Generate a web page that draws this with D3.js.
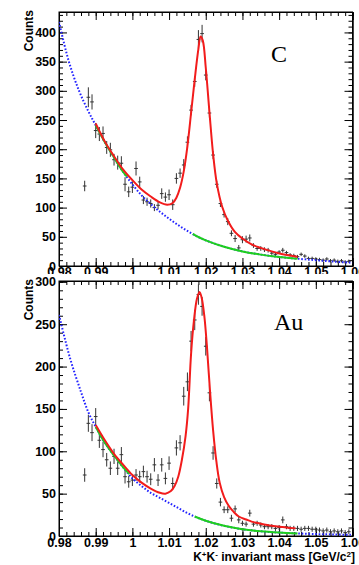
<!DOCTYPE html>
<html><head><meta charset="utf-8">
<script src="https://cdn.jsdelivr.net/npm/d3@7"></script>
<style>html,body{margin:0;padding:0;background:#fff;} svg{display:block;}</style>
</head><body>
<svg id="chart" width="359" height="565"></svg>
<script>
// ---------- DATA ----------
const massBins = [0.987,0.988,0.989,0.990,0.991,0.992,0.993,0.994,0.995,0.996,0.997,0.998,0.999,
 1.000,1.001,1.002,1.003,1.004,1.005,1.006,1.007,1.008,1.009,1.010,1.011,1.012,1.013,1.014,1.015,1.016,1.017,1.018,1.019,
 1.020,1.021,1.022,1.023,1.024,1.025,1.026,1.027,1.028,1.029,1.030,1.031,1.032,1.033,1.034,1.035,1.036,1.037,1.038,1.039,
 1.040,1.041,1.042,1.043,1.044,1.045,1.046,1.047,1.048,1.049,1.050,1.051,1.052,1.053,1.054,1.055,1.056,1.057,1.058,1.059];

const countsC = [137,289,281,232,226,227,203,199,182,177,176,140,127,
 135,167,144,113,110,107,100,104,124,118,122,105,150,159,173,212,267,316,388,398,
 327,262,190,140,107,88,76,56,47,31,45,46,48,35,30,30,28,27,22,20,
 24,27,23,19,18,16,20,17,13,13,12,11,10,12,9,10,8,9,7,8];
const errC = [9,17,13,13,12,12,11,12,10,12,12,12,9,
 10,12,9,7,7,7,6,7,9,8,9,9,9,8,10,10,9,9,16,15,
 9,8,7,6,6,5,6,5,6,5,6,6,6,4,4,4,4,4,3,3,
 3,4,3,3,3,3,3,3,3,3,3,3,3,3,3,3,3,3,3,3];

const countsAu = [72,133,122,141,113,102,90,80,94,80,96,70,64,
 66,72,70,76,70,67,84,66,84,68,86,62,104,110,165,182,230,255,285,271,
 224,169,98,62,40,31,31,21,32,19,15,14,27,14,15,13,11,11,11,9,
 10,19,11,9,9,9,8,9,9,8,8,7,6,7,5,6,5,6,4,5];
const errAu = [8,10,10,10,9,9,8,8,9,8,9,8,7,
 7,7,7,7,7,7,8,7,8,7,8,7,9,9,11,11,12,12,12,11,
 11,10,8,6,5,4,4,4,4,4,3,3,4,3,3,3,3,3,3,3,
 3,4,3,3,3,3,3,3,3,3,3,3,3,3,3,3,3,3,3,3];

// fit curves: [mass, counts]
const redC = [[0.990,244],[0.9925,213],[0.995,188],[0.9975,165],[1.000,147],[1.0025,131],[1.005,119],[1.0075,109],[1.0095,105],
 [1.011,108],[1.012,117],[1.013,134],[1.014,162],[1.015,205],[1.016,262],[1.017,320],[1.018,372],[1.0186,393],[1.0192,386],
 [1.020,340],[1.021,264],[1.022,192],[1.023,142],[1.0245,101],[1.026,78],[1.028,58],[1.030,47],[1.0325,37],[1.035,31],
 [1.038,25],[1.041,20],[1.045,16]];
const blueC = [[0.980,418],[0.9826,352],[0.9854,301],[0.988,265],[0.990,241],[0.9925,212],[0.995,186],[0.9975,161],[1.000,140],
 [1.0025,121],[1.005,106],[1.0075,93],[1.010,81],[1.0125,70],[1.015,60],[1.0175,51],[1.020,44],[1.025,33],[1.030,25],
 [1.035,19.5],[1.040,15.5],[1.045,12.5],[1.050,10],[1.055,7.5],[1.060,5.5]];
const greenC = [[0.990,241],[0.9925,212],[0.995,186],[0.9975,161],[0.9985,153],[1.008,null],
 [1.0165,55],[1.0175,51],[1.020,44],[1.025,33],[1.030,25],[1.035,19.5],[1.040,15.5],[1.045,12.5]];

const redAu = [[0.990,131],[0.9925,113],[0.995,97],[0.9975,84],[1.000,72],[1.0025,63],[1.005,56],[1.0075,51],[1.009,50],
 [1.0105,53],[1.0115,59],[1.0125,70],[1.0135,90],[1.0145,118],[1.0152,150],[1.016,215],[1.0168,255],[1.0176,280],[1.0183,288],
 [1.0189,281],[1.0196,260],[1.0203,225],[1.0211,175],[1.022,125],[1.0229,88],[1.0238,63],[1.025,46],[1.0262,36],[1.0275,29],
 [1.029,23],[1.031,19.5],[1.0325,17],[1.035,14.5],[1.038,12],[1.041,10.5],[1.0445,9]];
const blueAu = [[0.980,261],[0.983,210],[0.986,170],[0.988,146],[0.990,129],[0.9925,110],[0.995,95],[0.9975,81],[1.000,68],
 [1.0025,59],[1.005,51],[1.0075,45],[1.010,39],[1.0125,33],[1.015,27],[1.0175,22],[1.020,18],[1.025,12],[1.030,8],
 [1.035,5.5],[1.040,4],[1.045,3],[1.050,2.3],[1.055,1.8],[1.060,1.4]];
const greenAu = [[0.990,129],[0.9925,110],[0.995,95],[0.9975,81],[0.9992,73],[1.008,null],
 [1.017,23],[1.020,18],[1.025,12],[1.030,8],[1.035,5.5],[1.040,4],[1.045,3]];

const xTickValues = [0.98,0.99,1.00,1.01,1.02,1.03,1.04,1.05,1.06];
const xTickLabels = ["0.98","0.99","1","1.01","1.02","1.03","1.04","1.05","1.06"];
const yTicksC = [0,50,100,150,200,250,300,350,400];
const yTicksAu = [0,50,100,150,200,250,300];
const yTitle = "Counts";
const panelLabels = ["C","Au"];

// ---------- DRAW ----------
const svg = d3.select("#chart");
const L = 59, R = 352.5;
const x = d3.scaleLinear().domain([0.98,1.06]).range([L,R]);
const FONT = "'Liberation Sans', Arial, Helvetica, sans-serif";

function styleAxis(g){
  g.select(".domain").attr("stroke","#000").attr("stroke-width",1);
  g.selectAll(".tick line").attr("stroke","#000").attr("stroke-width",1);
  g.selectAll("text").attr("font-family",FONT).attr("font-weight","bold").attr("font-size",12.5).attr("fill","#000");
}

function drawPanel(opts, idx){
  const g = svg.append("g");
  const y = d3.scaleLinear().domain([0,opts.yMax]).range([opts.bottom,opts.top]);
  const clipId = "clip"+idx;
  svg.append("clipPath").attr("id",clipId).append("rect")
    .attr("x",L).attr("y",opts.top).attr("width",R-L).attr("height",opts.bottom-opts.top);

  // minor ticks
  const xMinor = x.ticks(40);
  const yMinor = d3.range(0, opts.yMax, 10);
  g.append("g").attr("transform",`translate(0,${opts.bottom})`)
    .call(d3.axisBottom(x).tickValues(xMinor).tickSize(-4).tickFormat("")).call(styleAxis);
  g.append("g").attr("transform",`translate(0,${opts.top})`)
    .call(d3.axisTop(x).tickValues(xMinor).tickSize(-4).tickFormat("")).call(styleAxis);
  g.append("g").attr("transform",`translate(${L},0)`)
    .call(d3.axisLeft(y).tickValues(yMinor).tickSize(-4).tickFormat("")).call(styleAxis);
  g.append("g").attr("transform",`translate(${R},0)`)
    .call(d3.axisRight(y).tickValues(yMinor).tickSize(-4).tickFormat("")).call(styleAxis);
  // major ticks
  g.append("g").attr("transform",`translate(0,${opts.bottom})`)
    .call(d3.axisBottom(x).tickValues(xTickValues).tickSize(-8).tickPadding(opts.xPad)
      .tickFormat((d,i)=>xTickLabels[i])).call(styleAxis);
  g.append("g").attr("transform",`translate(0,${opts.top})`)
    .call(d3.axisTop(x).tickValues(xTickValues).tickSize(-8).tickFormat("")).call(styleAxis);
  g.append("g").attr("transform",`translate(${L},0)`)
    .call(d3.axisLeft(y).tickValues(opts.yTicks).tickSize(-8).tickPadding(3).tickFormat(d=>String(d))).call(styleAxis);
  g.append("g").attr("transform",`translate(${R},0)`)
    .call(d3.axisRight(y).tickValues(opts.yTicks).tickSize(-8).tickFormat("")).call(styleAxis);

  // frame
  g.append("rect").attr("x",L).attr("y",opts.top).attr("width",R-L).attr("height",opts.bottom-opts.top)
    .attr("fill","none").attr("stroke","#000").attr("stroke-width",1);

  const plot = g.append("g").attr("clip-path",`url(#${clipId})`);
  // data points
  const pts = plot.append("g").attr("stroke","#333").attr("stroke-width",1);
  massBins.forEach((m,i)=>{
    const c = opts.counts[i], e = opts.err[i];
    pts.append("line").attr("x1",x(m)).attr("x2",x(m)).attr("y1",y(c-e)).attr("y2",y(c+e));
    pts.append("line").attr("x1",x(m-0.0005)).attr("x2",x(m+0.0005)).attr("y1",y(c)).attr("y2",y(c));
  });
  const line = d3.line().defined(d=>d[1]!==null).x(d=>x(d[0])).y(d=>y(d[1])).curve(d3.curveCatmullRom.alpha(0.5));
  plot.append("path").attr("d",line(opts.blue)).attr("fill","none").attr("stroke","#2424ff")
    .attr("stroke-width",2).attr("stroke-dasharray","1.6,1.8");
  plot.append("path").attr("d",line(opts.green)).attr("fill","none").attr("stroke","#1ecf1e").attr("stroke-width",2);
  plot.append("path").attr("d",line(opts.red)).attr("fill","none").attr("stroke","#f21c1c").attr("stroke-width",2);

  // y title
  g.append("text").attr("transform",`translate(33,${opts.top-2}) rotate(-90)`).attr("text-anchor","end")
    .attr("font-family",FONT).attr("font-weight","bold").attr("font-size",12).text(yTitle);
  // panel label
  g.append("text").attr("x",opts.labelX).attr("y",opts.labelY)
    .attr("font-family","'Liberation Serif','Times New Roman',serif").attr("font-size",24).text(opts.label);
}

drawPanel({counts:countsC, err:errC, red:redC, blue:blueC, green:greenC, yMax:435, top:12, bottom:266,
  yTicks:yTicksC, label:panelLabels[0], labelX:271, labelY:62, xPad:1.5}, 0);

// bottom pad background hides lower part of the upper pad's tick labels
svg.append("rect").attr("x",0).attr("y",274).attr("width",359).attr("height",291).attr("fill","#fff");

drawPanel({counts:countsAu, err:errAu, red:redAu, blue:blueAu, green:greenAu, yMax:301, top:281, bottom:536,
  yTicks:yTicksAu, label:panelLabels[1], labelX:274, labelY:329.5, xPad:2.5}, 1);

// x axis title
const t = svg.append("text").attr("x",355).attr("y",560.5).attr("text-anchor","end")
  .attr("font-family",FONT).attr("font-weight","bold").attr("font-size",12);
t.append("tspan").text("K");
t.append("tspan").attr("dy",-4).attr("font-size",8).text("+");
t.append("tspan").attr("dy",4).text("K");
t.append("tspan").attr("dy",-4).attr("font-size",8).text("-");
t.append("tspan").attr("dy",4).text(" invariant mass [GeV/c");
t.append("tspan").attr("dy",-4).attr("font-size",8).text("2");
t.append("tspan").attr("dy",4).text("]");
</script>
</body></html>
